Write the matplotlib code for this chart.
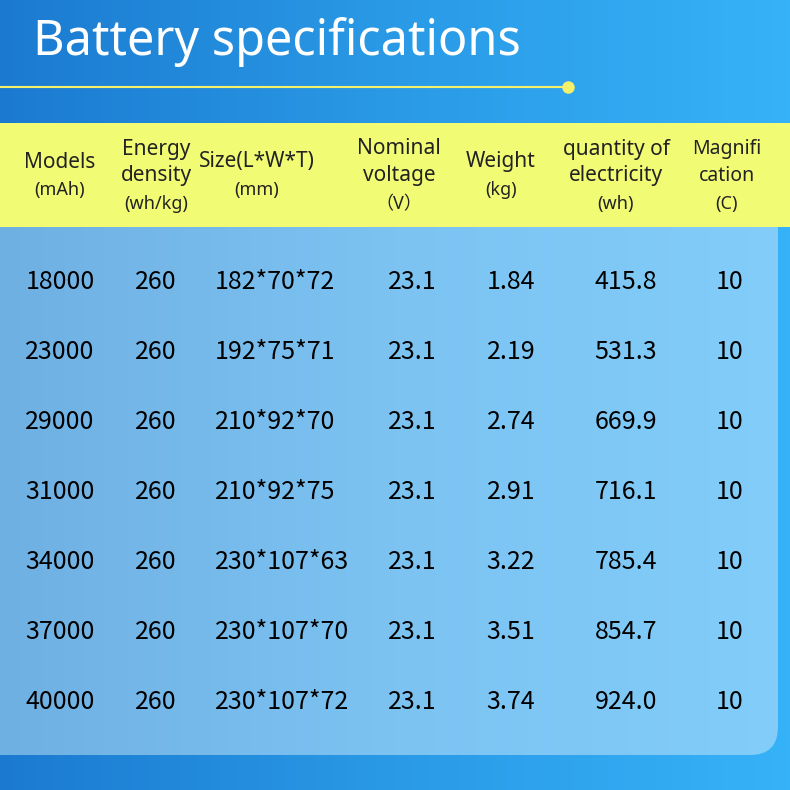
import numpy as np
import matplotlib.pyplot as plt
from matplotlib.colors import LinearSegmentedColormap
from matplotlib.patches import FancyBboxPatch, Rectangle

title = "Battery specifications"
headers = [["Models", "(mAh)"],
           ["Energy", "density", "(wh/kg)"],
           ["Size(L*W*T)", "(mm)"],
           ["Nominal", "voltage", "（V）"],
           ["Weight", "(kg)"],
           ["quantity of", "electricity", "(wh)"],
           ["Magnifi", "cation", "(C)"]]
models = ["18000", "23000", "29000", "31000", "34000", "37000", "40000"]
density = ["260"] * 7
sizes = ["182*70*72", "192*75*71", "210*92*70", "210*92*75",
         "230*107*63", "230*107*70", "230*107*72"]
voltage = ["23.1"] * 7
weight = ["1.84", "2.19", "2.74", "2.91", "3.22", "3.51", "3.74"]
energy = ["415.8", "531.3", "669.9", "716.1", "785.4", "854.7", "924.0"]
rate = ["10"] * 7

head_x = [60, 156, 257, 399, 501, 616, 727]
col_x = [60, 156, 215, 412, 511, 626, 730]
row_y = [282, 352, 422, 492, 562, 632, 702]

plt.rcParams['font.family'] = ['Noto Sans', 'Noto Sans CJK SC', 'DejaVu Sans']
fig = plt.figure(figsize=(7.9, 7.9), dpi=100)
ax = fig.add_axes([0, 0, 1, 1])
ax.set_xlim(0, 790)
ax.set_ylim(790, 0)
ax.axis('off')

# background gradient
bg = LinearSegmentedColormap.from_list('bg', ['#1b7ad0', '#2a9ae6', '#36b2f8'])
grad = np.linspace(0, 1, 256).reshape(1, -1)
ax.imshow(grad, cmap=bg, extent=[0, 790, 790, 0], aspect='auto', zorder=0)

# title and line
ax.text(33, 42, title, color='white', fontsize=35, va='center', ha='left', zorder=3)
ax.plot([0, 568], [87, 87], color='#f4f06a', lw=1.5, zorder=3)
ax.plot(568, 87, 'o', color='#f4f06a', ms=8, zorder=3)

# body panel
panel = FancyBboxPatch((-40, 200), 818, 555, boxstyle="round,pad=0,rounding_size=28",
                       facecolor='none', edgecolor='none', zorder=1)
ax.add_patch(panel)
pc = LinearSegmentedColormap.from_list('pc', ['#6fb0e2', '#7cc3f2', '#82cdfa'])
im = ax.imshow(grad, cmap=pc, extent=[0, 790, 755, 200], aspect='auto', zorder=1)
im.set_clip_path(panel)

# header band
ax.add_patch(Rectangle((0, 123), 790, 104, facecolor='#f1fc74', edgecolor='none', zorder=2))
for x, lines in zip(head_x, headers):
    n = len(lines)
    ys = [162, 190] if n == 2 else [149, 176, 204]
    for i, (y, s) in enumerate(zip(ys, lines)):
        fs = 15 if i < n - 1 else 13
        if x == head_x[6] and i < 2:
            fs = 14
        ax.text(x, y, s, ha='center', va='center', fontsize=fs, color='#222222', zorder=3)

cols = [models, density, sizes, voltage, weight, energy, rate]
for j, (x, vals) in enumerate(zip(col_x, cols)):
    for y, v in zip(row_y, vals):
        ax.text(x, y, v, ha='left' if j == 2 else 'center', va='center', fontsize=18,
                color='black', family=['Noto Sans CJK SC', 'DejaVu Sans'], zorder=3)

fig.savefig('out.png', dpi=100)
